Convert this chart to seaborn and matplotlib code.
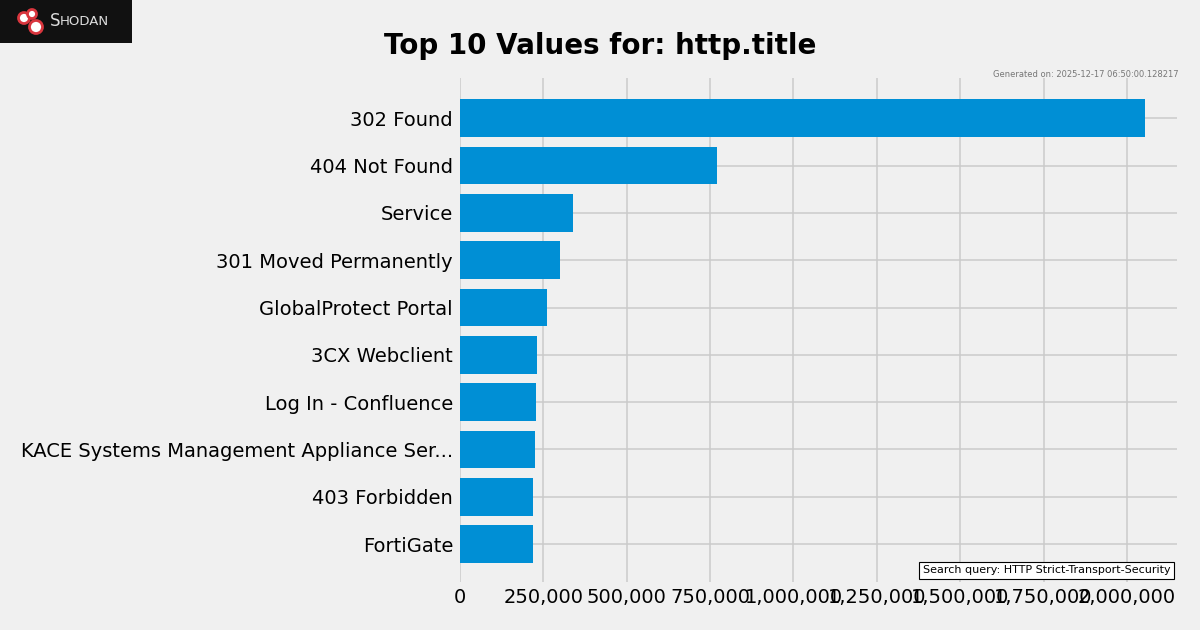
import matplotlib
matplotlib.use("Agg")
import matplotlib.pyplot as plt
from matplotlib.patches import Circle
from matplotlib.ticker import FuncFormatter
import pandas as pd
import seaborn as sns

titles = [
    "302 Found",
    "404 Not Found",
    "Service",
    "301 Moved Permanently",
    "GlobalProtect Portal",
    "3CX Webclient",
    "Log In - Confluence",
    "KACE Systems Management Appliance Ser...",
    "403 Forbidden",
    "FortiGate",
]
counts = [2053000, 770000, 339000, 300000, 261000, 231000, 228000, 225000, 219000, 218000]

df = pd.DataFrame({"title": titles, "count": counts})

plt.style.use("fivethirtyeight")
fig = plt.figure(figsize=(12, 6.3), dpi=100, facecolor="#f0f0f0")
ax = fig.add_axes([460 / 1200, 48 / 630, 717 / 1200, 504 / 630])
ax.set_facecolor("#f0f0f0")

sns.barplot(data=df, x="count", y="title", color="#008fd5", saturation=1,
            width=0.8, ax=ax)

ax.set_xlim(0, 2150000)
ax.set_ylim(9.8, -0.85)
ax.set_xticks(range(0, 2000001, 250000))
ax.xaxis.set_major_formatter(FuncFormatter(lambda v, _: f"{int(v):,}"))
ax.set_xlabel("")
ax.set_ylabel("")
ax.tick_params(axis="both", labelsize=14, length=0)
ax.tick_params(axis="y", pad=5)
ax.tick_params(axis="x", pad=4.5)
ax.grid(True, color="#cbcbcb", linewidth=1.1)
ax.set_axisbelow(True)
for s in ax.spines.values():
    s.set_visible(False)

fig.text(0.5, 0.927, "Top 10 Values for: http.title", ha="center", va="center",
         fontsize=20, fontweight="bold")
fig.text(0.982, 0.882, "Generated on: 2025-12-17 06:50:00.128217", ha="right",
         va="center", fontsize=6, color="#777777")
ax.text(0.991, 0.013, "Search query: HTTP Strict-Transport-Security",
        transform=ax.transAxes, ha="right", va="bottom", fontsize=8,
        bbox=dict(boxstyle="square,pad=0.35", facecolor="white",
                  edgecolor="black", linewidth=0.8))

# shodan logo, drawn in pixel units on its own axes
logo = fig.add_axes([0, 587 / 630, 132 / 1200, 43 / 630])
logo.set_facecolor("#111111")
logo.set_xlim(0, 132)
logo.set_ylim(43, 0)
logo.set_xticks([])
logo.set_yticks([])
logo.grid(False)
for s in logo.spines.values():
    s.set_visible(False)
for cx, cy, r in [(24, 18, 5.5), (32, 14, 4.5), (36, 27, 6.5)]:
    logo.add_patch(Circle((cx, cy), r, facecolor="white", edgecolor="#d9363e",
                          linewidth=2))
logo.text(50, 21, "S", fontsize=12, color="#dddddd", va="center", ha="left")
logo.text(60, 21.5, "HODAN", fontsize=9.5, color="#dddddd", va="center",
          ha="left")

fig.savefig("out.png", dpi=100, facecolor=fig.get_facecolor())
